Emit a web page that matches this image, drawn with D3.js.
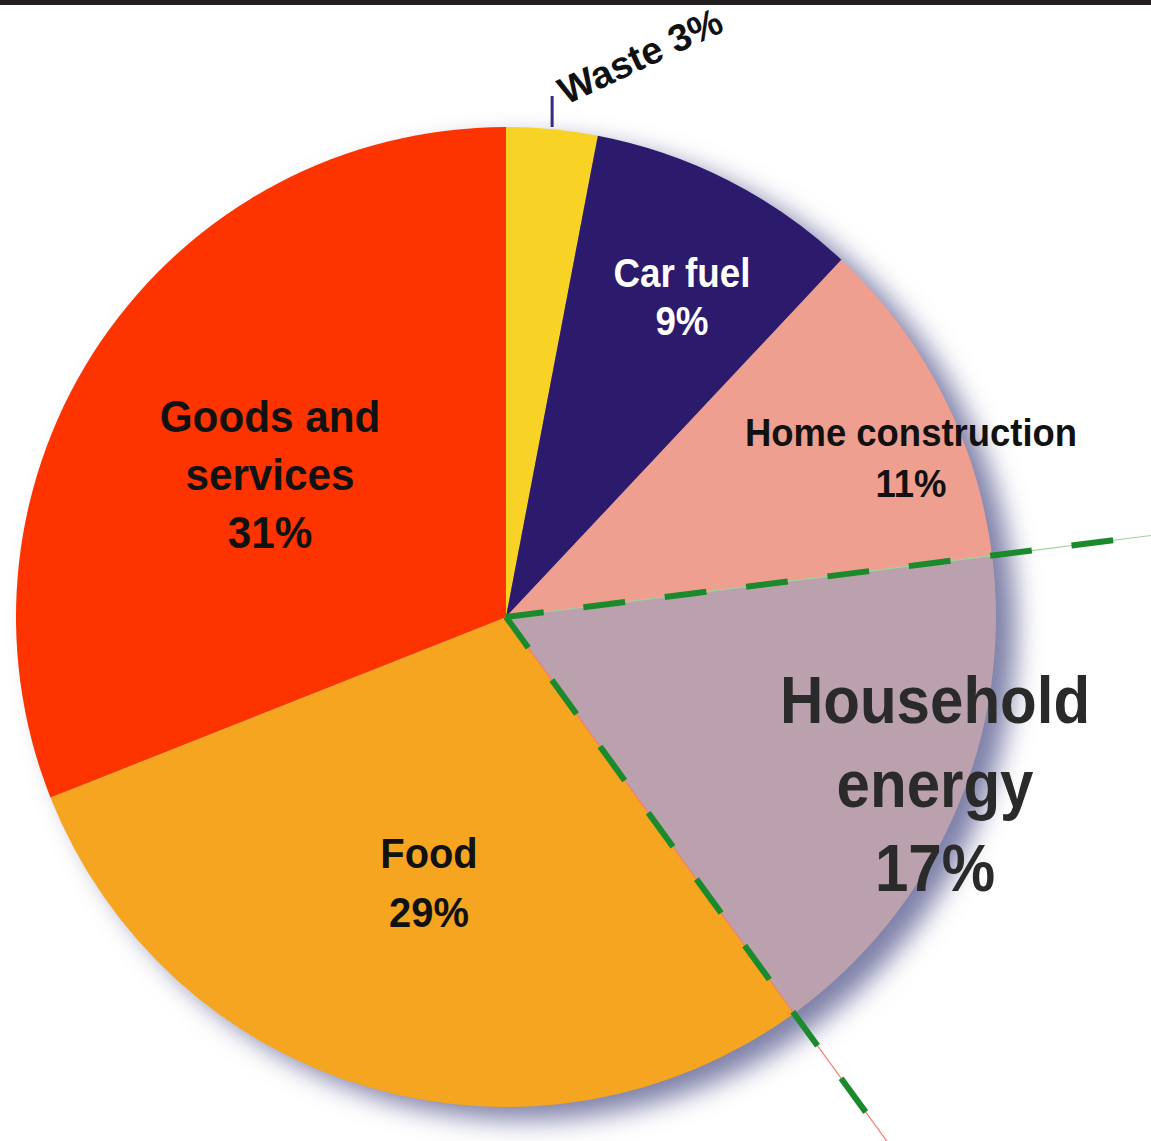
<!DOCTYPE html>
<html>
<head>
<meta charset="utf-8">
<script src="https://cdn.jsdelivr.net/npm/d3@7"></script>
<style>
  body { margin: 0; background: #fff; }
  svg { display: block; }
  text { font-family: "Liberation Sans", Arial, sans-serif; font-weight: bold; }
</style>
</head>
<body>
<svg width="1151" height="1141"></svg>
<script>
// slices, clockwise from 12 o'clock
var categories = ['Waste', 'Car fuel', 'Home construction', 'Household energy', 'Food', 'Goods and services'];
var values = [3, 9, 11, 17, 29, 31];
var labelLines = [
  ['Waste 3%'],
  ['Car fuel', '9%'],
  ['Home construction', '11%'],
  ['Household', 'energy', '17%'],
  ['Food', '29%'],
  ['Goods and', 'services', '31%']
];
var colors = ['#f8d326', '#2c1a6c', '#ef9f8f', '#bba1ad', '#f5a51f', '#fd3300'];

var width = 1151, height = 1141;
var cx = 506, cy = 617, radius = 490;

var svg = d3.select('svg');
var defs = svg.append('defs');

var shadow = defs.append('filter')
  .attr('id', 'shadow')
  .attr('x', '-20%').attr('y', '-20%')
  .attr('width', '140%').attr('height', '140%');
shadow.append('feGaussianBlur').attr('stdDeviation', 13);

// top black band
svg.append('rect')
  .attr('x', 0).attr('y', 0)
  .attr('width', width).attr('height', 5)
  .attr('fill', '#231f20');

var g = svg.append('g').attr('transform', 'translate(' + cx + ',' + cy + ')');

// drop shadow behind the pie
g.append('circle')
  .attr('cx', 20).attr('cy', 13)
  .attr('r', radius)
  .attr('fill', '#7e80a8')
  .attr('filter', 'url(#shadow)');

var pie = d3.pie().sort(null).value(d => d)(values);
var arc = d3.arc().innerRadius(0).outerRadius(radius);

g.selectAll('path.slice')
  .data(pie)
  .enter()
  .append('path')
  .attr('class', 'slice')
  .attr('d', arc)
  .attr('fill', (d, i) => colors[i]);

// dashed guide lines along household energy edges
var guideLen = 720;
var hh = pie[3];
[[hh.startAngle, '#9fd39f'], [hh.endAngle, '#f27f6f']].forEach(function (p) {
  var a = p[0];
  var x2 = Math.sin(a) * guideLen, y2 = -Math.cos(a) * guideLen;
  g.append('line')
    .attr('x1', 0).attr('y1', 0).attr('x2', x2).attr('y2', y2)
    .attr('stroke', p[1]).attr('stroke-width', 1.2);
  g.append('line')
    .attr('x1', 0).attr('y1', 0).attr('x2', x2).attr('y2', y2)
    .attr('stroke', '#1b8a2c').attr('stroke-width', 6)
    .attr('stroke-dasharray', '42,40')
    .attr('stroke-dashoffset', 4);
});

// label layout: offsets from pie centre of the first baseline
var layout = [
  {dx: 60, dy: -512, size: 38, sx: 1.0, lh: 0, rot: -25, anchor: 'start', fill: '#111'},
  {dx: 176, dy: -330, size: 40, sx: 0.92, lh: 48, rot: 0, anchor: 'middle', fill: '#fff'},
  {dx: 405, dy: -171, size: 39, sx: 0.935, lh: 51, rot: 0, anchor: 'middle', fill: '#111'},
  {dx: 429, dy: 106, size: 66, sx: 0.91, lh: 84, rot: 0, anchor: 'middle', fill: '#2a2a2a'},
  {dx: -77, dy: 251, size: 42, sx: 0.95, lh: 59, rot: 0, anchor: 'middle', fill: '#111'},
  {dx: -236, dy: -185, size: 44, sx: 0.96, lh: 58, rot: 0, anchor: 'middle', fill: '#111'}
];

labelLines.forEach(function (lines, i) {
  var L = layout[i];
  var t = g.append('g')
    .attr('transform', 'translate(' + L.dx + ',' + L.dy + ') rotate(' + L.rot + ')');
  lines.forEach(function (s, j) {
    t.append('text')
      .attr('transform', 'translate(0,' + (j * L.lh) + ') scale(' + L.sx + ',1)')
      .attr('text-anchor', L.anchor)
      .attr('font-size', L.size)
      .attr('fill', L.fill)
      .text(s);
  });
});

// leader tick for Waste
var w = pie[0];
var wa = (w.startAngle + w.endAngle) / 2;
g.append('line')
  .attr('x1', Math.sin(wa) * radius).attr('y1', -radius)
  .attr('x2', Math.sin(wa) * radius).attr('y2', -radius - 31)
  .attr('stroke', '#3a2a80').attr('stroke-width', 3);
</script>
</body>
</html>
